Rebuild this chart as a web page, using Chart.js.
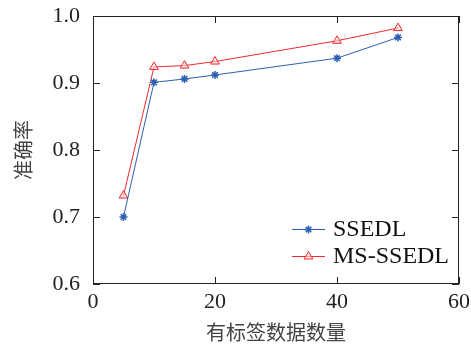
<!DOCTYPE html>
<html><head><meta charset="utf-8">
<script src="https://cdn.jsdelivr.net/npm/chart.js@4.4.0/dist/chart.umd.min.js"></script>
<style>html,body{margin:0;padding:0;background:#fff}#wrap{width:471px;height:345px}</style>
</head><body><div id="wrap"><canvas id="c" width="471" height="345"></canvas></div>
<script>
const xValues = [5, 10, 15, 20, 40, 50];
const ssedl = [0.700, 0.901, 0.906, 0.912, 0.937, 0.968];
const msSsedl = [0.732, 0.924, 0.926, 0.932, 0.963, 0.982];
const seriesNames = ['SSEDL', 'MS-SSEDL'];
const xTicks = [0, 20, 40, 60];
const yTicks = [0.6, 0.7, 0.8, 0.9, 1.0];
const xTitle = '有标签数据数量';
const yTitle = '准确率';

const BLUE = '#2c5fb3', RED = '#ee2a2f';
const serif = '"Liberation Serif", "Times New Roman", serif';
const cjk = '"Noto Sans CJK SC", sans-serif';

const frame = {
  id: 'frame',
  afterDatasetsDraw(chart) {
    const {ctx, chartArea: a, scales: {x, y}} = chart;
    ctx.save();
    ctx.strokeStyle = '#222'; ctx.lineWidth = 1;
    ctx.strokeRect(a.left + 0.5, a.top + 0.5, a.right - a.left - 1, a.bottom - a.top - 1);
    const L = 7;
    ctx.beginPath();
    xTicks.forEach(v => { const p = Math.round(x.getPixelForValue(v)) + 0.5;
      ctx.moveTo(p, a.bottom); ctx.lineTo(p, a.bottom - L);
      ctx.moveTo(p, a.top); ctx.lineTo(p, a.top + L); });
    yTicks.forEach(v => { const p = Math.round(y.getPixelForValue(v)) + 0.5;
      ctx.moveTo(a.left, p); ctx.lineTo(a.left + L, p);
      ctx.moveTo(a.right, p); ctx.lineTo(a.right - L, p); });
    ctx.stroke();
    // legend inside plot
    const items = chart.data.datasets;
    const lx0 = 292, lx1 = 325, tx = 333, ys = [229, 256];
    items.forEach((ds, i) => {
      ctx.strokeStyle = ds.borderColor; ctx.lineWidth = 1;
      ctx.beginPath(); ctx.moveTo(lx0, ys[i] + 0.5); ctx.lineTo(lx1, ys[i] + 0.5); ctx.stroke();
      ctx.fillStyle = ds.pointBackgroundColor; ctx.strokeStyle = ds.pointBorderColor; ctx.lineWidth = ds.pointBorderWidth;
      Chart.helpers.drawPoint(ctx, {pointStyle: ds.pointStyle, radius: ds.pointRadius, borderWidth: ds.pointBorderWidth}, (lx0 + lx1) / 2, ys[i] + 0.5);
      ctx.fillStyle = '#111'; ctx.font = '24px ' + serif; ctx.textBaseline = 'middle'; ctx.textAlign = 'left';
      ctx.fillText(ds.label, tx, ys[i] + 1);
    });
    ctx.restore();
  }
};

new Chart(document.getElementById('c'), {
  type: 'line',
  data: {
    datasets: [
      { label: seriesNames[0], data: xValues.map((v, i) => ({x: v, y: ssedl[i]})),
        borderColor: BLUE, backgroundColor: BLUE, borderWidth: 1, pointStyle: 'star',
        pointRadius: 4, pointBorderWidth: 1.5, pointBorderColor: BLUE, pointBackgroundColor: BLUE, tension: 0 },
      { label: seriesNames[1], data: xValues.map((v, i) => ({x: v, y: msSsedl[i]})),
        borderColor: RED, backgroundColor: 'rgba(255,215,215,0.6)', borderWidth: 1, pointStyle: 'triangle',
        pointRadius: 5, pointBorderWidth: 1, pointBorderColor: RED, pointBackgroundColor: 'rgba(255,215,215,0.6)', tension: 0 }
    ]
  },
  options: {
    responsive: false, animation: false, devicePixelRatio: 1,
    layout: { padding: { top: 16, right: 12, left: 0, bottom: 0 } },
    plugins: { legend: { display: false }, tooltip: { enabled: false } },
    scales: {
      x: { type: 'linear', min: 0, max: 60,
        afterBuildTicks: s => { s.ticks = xTicks.map(v => ({value: v})); },
        afterFit: s => { s.height = 61; s.paddingLeft = 0; s.paddingRight = 0; },
        grid: { display: false, drawTicks: false }, border: { display: false },
        ticks: { color: '#222', font: { family: serif, size: 22 }, padding: 5, maxRotation: 0 },
        title: { display: true, text: xTitle, color: '#444', font: { family: cjk, size: 20 }, padding: { top: 2, bottom: 1 } } },
      y: { type: 'linear', min: 0.6, max: 1.0,
        afterBuildTicks: s => { s.ticks = yTicks.map(v => ({value: v})); },
        afterFit: s => { s.width = 93; s.paddingTop = 0; s.paddingBottom = 0; },
        grid: { display: false, drawTicks: false }, border: { display: false },
        ticks: { color: '#222', font: { family: serif, size: 22 }, padding: 13, callback: v => v.toFixed(1) },
        title: { display: true, text: yTitle, color: '#444', font: { family: cjk, size: 20 }, padding: { top: 11, bottom: 0 } } }
    }
  },
  plugins: [frame]
});
</script></body></html>
